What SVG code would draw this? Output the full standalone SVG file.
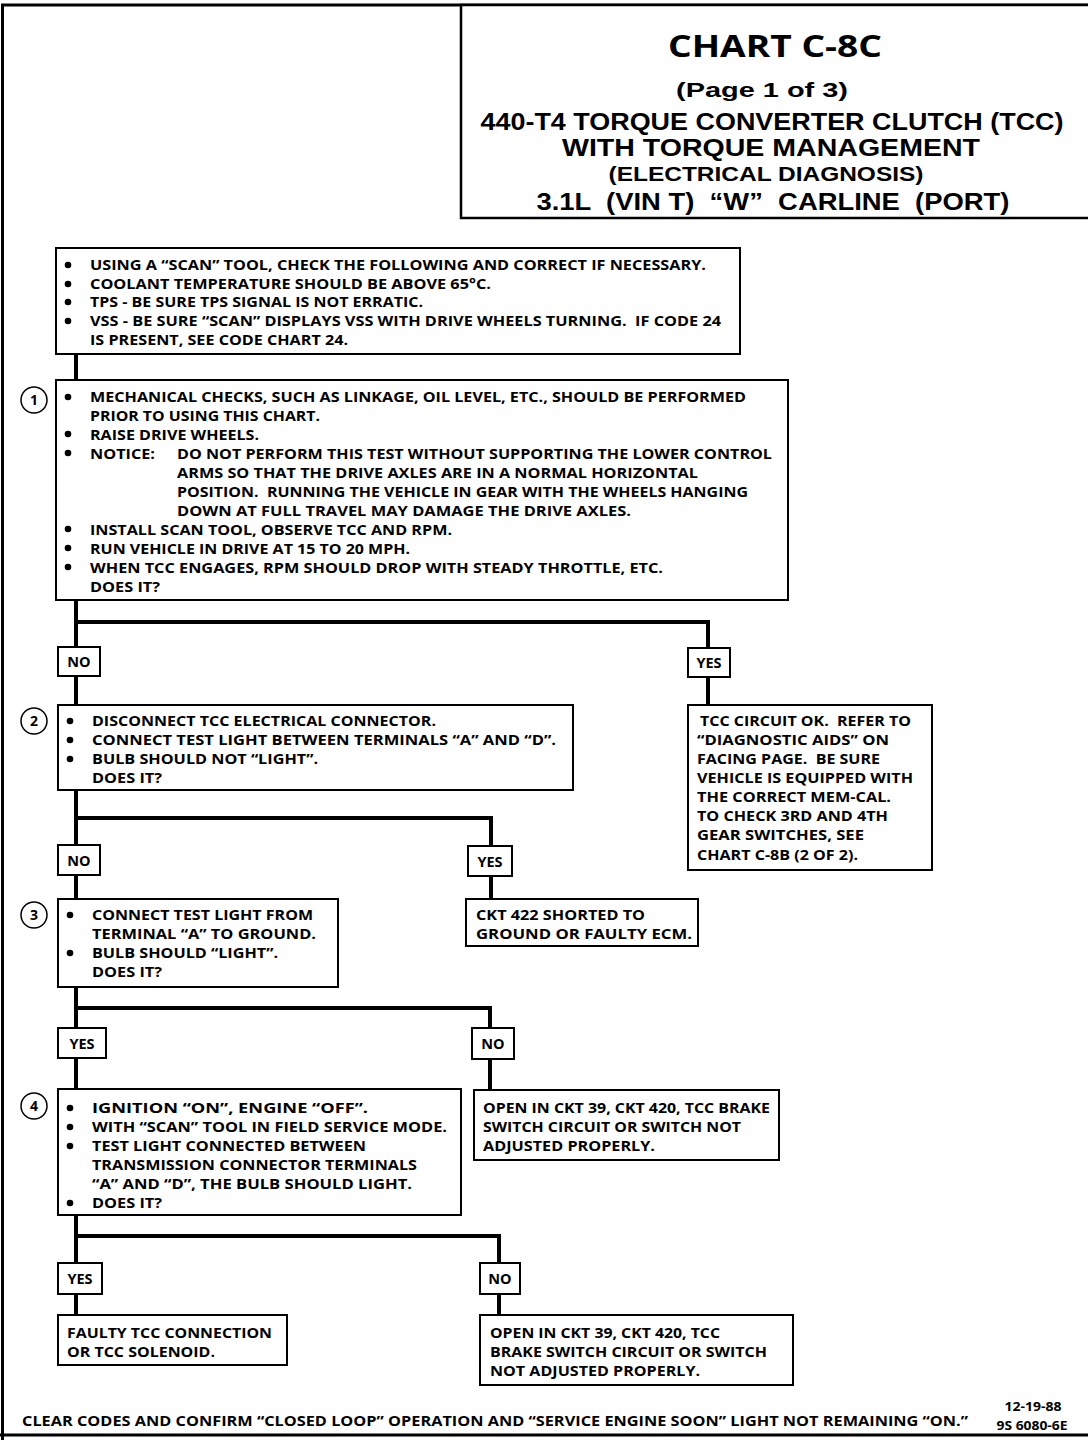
<svg xmlns="http://www.w3.org/2000/svg" width="1088" height="1440" viewBox="0 0 1088 1440">
<style>
text{font-family:"Open Sans","Liberation Sans",sans-serif;font-weight:700;fill:#000}
.t{font-size:14.5px}
.box{fill:#fff;stroke:#000;stroke-width:2}
.lbl{fill:#fff;stroke:#000;stroke-width:2}
.lt{font-size:14.5px;text-anchor:middle}
.num{fill:#fff;stroke:#000;stroke-width:1.5}
.nt{font-size:14px;text-anchor:middle}
.conn{fill:none;stroke:#000;stroke-width:4}
.frame{fill:none;stroke:#000;stroke-width:3}
.ttl{text-anchor:middle}
.tl{font-family:"Liberation Sans",Arial,sans-serif;text-anchor:middle}
</style>
<defs><circle id="b" r="3.3" fill="#000"/></defs>
<g id="frame">
<path class="frame" d="M2.5 1440 V5 H1088 M0 1435 H1088"/>
</g>
<g id="connectors">
<path class="conn" d="M76 354 V380 M76 600 V705 M76 622 H708 V705 M76 790 V899 M76 818 H491 V899 M76 987 V1089 M76 1008 H490 V1090 M76 1215 V1315 M76 1236 H499 V1315"/>
</g>
<g id="title">
<rect x="461" y="5" width="640" height="213" fill="#fff" stroke="#000" stroke-width="2.5"/>
<text class="ttl" x="775" y="57" font-size="31" textLength="214" lengthAdjust="spacingAndGlyphs">CHART C-8C</text>
<text class="tl" x="762" y="97" font-size="20" textLength="172" lengthAdjust="spacingAndGlyphs">(Page 1 of 3)</text>
<text class="tl" x="772" y="130" font-size="23" textLength="583" lengthAdjust="spacingAndGlyphs">440-T4 TORQUE CONVERTER CLUTCH (TCC)</text>
<text class="tl" x="771" y="156" font-size="23" textLength="418" lengthAdjust="spacingAndGlyphs">WITH TORQUE MANAGEMENT</text>
<text class="tl" x="766" y="181" font-size="20" textLength="315" lengthAdjust="spacingAndGlyphs">(ELECTRICAL DIAGNOSIS)</text>
<text class="tl" x="773" y="210" font-size="24" textLength="473" lengthAdjust="spacingAndGlyphs" xml:space="preserve">3.1L  (VIN T)  “W”  CARLINE  (PORT)</text>
</g>
<g id="node0">
<rect class="box" x="56" y="248" width="684" height="106"/>
<use href="#b" x="68" y="265"/><use href="#b" x="68" y="284"/><use href="#b" x="68" y="302"/><use href="#b" x="68" y="321"/>
<text class="t" x="90" y="270" textLength="616" lengthAdjust="spacingAndGlyphs">USING A “SCAN” TOOL, CHECK THE FOLLOWING AND CORRECT IF NECESSARY.</text>
<text class="t" x="90" y="289" textLength="401" lengthAdjust="spacingAndGlyphs">COOLANT TEMPERATURE SHOULD BE ABOVE 65°C.</text>
<text class="t" x="90" y="307" textLength="333" lengthAdjust="spacingAndGlyphs">TPS - BE SURE TPS SIGNAL IS NOT ERRATIC.</text>
<text class="t" x="90" y="326" textLength="631" lengthAdjust="spacingAndGlyphs" xml:space="preserve">VSS - BE SURE “SCAN” DISPLAYS VSS WITH DRIVE WHEELS TURNING.  IF CODE 24</text>
<text class="t" x="90" y="345" textLength="258" lengthAdjust="spacingAndGlyphs">IS PRESENT, SEE CODE CHART 24.</text>
</g>
<g id="node1">
<rect class="box" x="56" y="380" width="732" height="220"/>
<circle class="num" cx="34" cy="400" r="13"/><text class="nt" x="34" y="405">1</text>
<use href="#b" x="68" y="397"/><use href="#b" x="68" y="434"/><use href="#b" x="68" y="453"/><use href="#b" x="68" y="529"/><use href="#b" x="68" y="548"/><use href="#b" x="68" y="567"/>
<text class="t" x="90" y="402" textLength="656" lengthAdjust="spacingAndGlyphs">MECHANICAL CHECKS, SUCH AS LINKAGE, OIL LEVEL, ETC., SHOULD BE PERFORMED</text>
<text class="t" x="90" y="421" textLength="230" lengthAdjust="spacingAndGlyphs">PRIOR TO USING THIS CHART.</text>
<text class="t" x="90" y="440" textLength="169" lengthAdjust="spacingAndGlyphs">RAISE DRIVE WHEELS.</text>
<text class="t" x="90" y="459" textLength="65" lengthAdjust="spacingAndGlyphs">NOTICE:</text>
<text class="t" x="177" y="459" textLength="595" lengthAdjust="spacingAndGlyphs">DO NOT PERFORM THIS TEST WITHOUT SUPPORTING THE LOWER CONTROL</text>
<text class="t" x="177" y="478" textLength="521" lengthAdjust="spacingAndGlyphs">ARMS SO THAT THE DRIVE AXLES ARE IN A NORMAL HORIZONTAL</text>
<text class="t" x="177" y="497" textLength="571" lengthAdjust="spacingAndGlyphs" xml:space="preserve">POSITION.  RUNNING THE VEHICLE IN GEAR WITH THE WHEELS HANGING</text>
<text class="t" x="177" y="516" textLength="454" lengthAdjust="spacingAndGlyphs">DOWN AT FULL TRAVEL MAY DAMAGE THE DRIVE AXLES.</text>
<text class="t" x="90" y="535" textLength="362" lengthAdjust="spacingAndGlyphs">INSTALL SCAN TOOL, OBSERVE TCC AND RPM.</text>
<text class="t" x="90" y="554" textLength="320" lengthAdjust="spacingAndGlyphs">RUN VEHICLE IN DRIVE AT 15 TO 20 MPH.</text>
<text class="t" x="90" y="573" textLength="573" lengthAdjust="spacingAndGlyphs">WHEN TCC ENGAGES, RPM SHOULD DROP WITH STEADY THROTTLE, ETC.</text>
<text class="t" x="90" y="592" textLength="70" lengthAdjust="spacingAndGlyphs">DOES IT?</text>
</g>
<g id="no1"><rect class="lbl" x="58" y="647" width="42" height="29"/><text class="lt" x="79" y="667">NO</text></g>
<g id="yes1"><rect class="lbl" x="688" y="648" width="42" height="29"/><text class="lt" x="709" y="668">YES</text></g>
<g id="node2">
<rect class="box" x="58" y="705" width="515" height="85"/>
<circle class="num" cx="34" cy="721" r="13"/><text class="nt" x="34" y="726">2</text>
<use href="#b" x="70" y="721"/><use href="#b" x="70" y="740"/><use href="#b" x="70" y="759"/>
<text class="t" x="92" y="726" textLength="344" lengthAdjust="spacingAndGlyphs">DISCONNECT TCC ELECTRICAL CONNECTOR.</text>
<text class="t" x="92" y="745" textLength="464" lengthAdjust="spacingAndGlyphs">CONNECT TEST LIGHT BETWEEN TERMINALS “A” AND “D”.</text>
<text class="t" x="92" y="764" textLength="226" lengthAdjust="spacingAndGlyphs">BULB SHOULD NOT “LIGHT”.</text>
<text class="t" x="92" y="783" textLength="70" lengthAdjust="spacingAndGlyphs">DOES IT?</text>
</g>
<g id="tccok">
<rect class="box" x="688" y="705" width="244" height="165"/>
<text class="t" x="700" y="726" textLength="211" lengthAdjust="spacingAndGlyphs" xml:space="preserve">TCC CIRCUIT OK.  REFER TO</text>
<text class="t" x="697" y="745" textLength="192" lengthAdjust="spacingAndGlyphs">“DIAGNOSTIC AIDS” ON</text>
<text class="t" x="697" y="764" textLength="183" lengthAdjust="spacingAndGlyphs" xml:space="preserve">FACING PAGE.  BE SURE</text>
<text class="t" x="697" y="783" textLength="216" lengthAdjust="spacingAndGlyphs">VEHICLE IS EQUIPPED WITH</text>
<text class="t" x="697" y="802" textLength="194" lengthAdjust="spacingAndGlyphs">THE CORRECT MEM-CAL.</text>
<text class="t" x="697" y="821" textLength="191" lengthAdjust="spacingAndGlyphs">TO CHECK 3RD AND 4TH</text>
<text class="t" x="697" y="840" textLength="167" lengthAdjust="spacingAndGlyphs">GEAR SWITCHES, SEE</text>
<text class="t" x="697" y="860" textLength="161" lengthAdjust="spacingAndGlyphs">CHART C-8B (2 OF 2).</text>
</g>
<g id="no2"><rect class="lbl" x="58" y="845" width="42" height="30"/><text class="lt" x="79" y="866">NO</text></g>
<g id="yes2"><rect class="lbl" x="468" y="846" width="44" height="30"/><text class="lt" x="490" y="867">YES</text></g>
<g id="node3">
<rect class="box" x="58" y="899" width="280" height="88"/>
<circle class="num" cx="34" cy="915" r="13"/><text class="nt" x="34" y="920">3</text>
<use href="#b" x="70" y="915"/><use href="#b" x="70" y="953"/>
<text class="t" x="92" y="920" textLength="221" lengthAdjust="spacingAndGlyphs">CONNECT TEST LIGHT FROM</text>
<text class="t" x="92" y="939" textLength="224" lengthAdjust="spacingAndGlyphs">TERMINAL “A” TO GROUND.</text>
<text class="t" x="92" y="958" textLength="186" lengthAdjust="spacingAndGlyphs">BULB SHOULD “LIGHT”.</text>
<text class="t" x="92" y="977" textLength="70" lengthAdjust="spacingAndGlyphs">DOES IT?</text>
</g>
<g id="ckt422">
<rect class="box" x="466" y="899" width="232" height="47"/>
<text class="t" x="476" y="920" textLength="169" lengthAdjust="spacingAndGlyphs">CKT 422 SHORTED TO</text>
<text class="t" x="476" y="939" textLength="216" lengthAdjust="spacingAndGlyphs">GROUND OR FAULTY ECM.</text>
</g>
<g id="yes3"><rect class="lbl" x="58" y="1028" width="48" height="30"/><text class="lt" x="82" y="1049">YES</text></g>
<g id="no3"><rect class="lbl" x="472" y="1028" width="42" height="31"/><text class="lt" x="493" y="1049">NO</text></g>
<g id="node4">
<rect class="box" x="58" y="1089" width="403" height="126"/>
<circle class="num" cx="34" cy="1106" r="13"/><text class="nt" x="34" y="1111">4</text>
<use href="#b" x="70" y="1108"/><use href="#b" x="70" y="1127"/><use href="#b" x="70" y="1146"/><use href="#b" x="70" y="1203"/>
<text class="t" x="92" y="1113" textLength="276" lengthAdjust="spacingAndGlyphs">IGNITION “ON”, ENGINE “OFF”.</text>
<text class="t" x="92" y="1132" textLength="355" lengthAdjust="spacingAndGlyphs">WITH “SCAN” TOOL IN FIELD SERVICE MODE.</text>
<text class="t" x="92" y="1151" textLength="274" lengthAdjust="spacingAndGlyphs">TEST LIGHT CONNECTED BETWEEN</text>
<text class="t" x="92" y="1170" textLength="325" lengthAdjust="spacingAndGlyphs">TRANSMISSION CONNECTOR TERMINALS</text>
<text class="t" x="92" y="1189" textLength="320" lengthAdjust="spacingAndGlyphs">“A” AND “D”, THE BULB SHOULD LIGHT.</text>
<text class="t" x="92" y="1208" textLength="70" lengthAdjust="spacingAndGlyphs">DOES IT?</text>
</g>
<g id="open1">
<rect class="box" x="474" y="1090" width="305" height="70"/>
<text class="t" x="483" y="1113" textLength="287" lengthAdjust="spacingAndGlyphs">OPEN IN CKT 39, CKT 420, TCC BRAKE</text>
<text class="t" x="483" y="1132" textLength="258" lengthAdjust="spacingAndGlyphs">SWITCH CIRCUIT OR SWITCH NOT</text>
<text class="t" x="483" y="1151" textLength="172" lengthAdjust="spacingAndGlyphs">ADJUSTED PROPERLY.</text>
</g>
<g id="yes4"><rect class="lbl" x="58" y="1263" width="44" height="31"/><text class="lt" x="80" y="1284">YES</text></g>
<g id="no4"><rect class="lbl" x="480" y="1263" width="40" height="31"/><text class="lt" x="500" y="1284">NO</text></g>
<g id="faulty">
<rect class="box" x="58" y="1315" width="229" height="50"/>
<text class="t" x="67" y="1338" textLength="205" lengthAdjust="spacingAndGlyphs">FAULTY TCC CONNECTION</text>
<text class="t" x="67" y="1357" textLength="148" lengthAdjust="spacingAndGlyphs">OR TCC SOLENOID.</text>
</g>
<g id="open2">
<rect class="box" x="480" y="1315" width="313" height="70"/>
<text class="t" x="490" y="1338" textLength="230" lengthAdjust="spacingAndGlyphs">OPEN IN CKT 39, CKT 420, TCC</text>
<text class="t" x="490" y="1357" textLength="277" lengthAdjust="spacingAndGlyphs">BRAKE SWITCH CIRCUIT OR SWITCH</text>
<text class="t" x="490" y="1376" textLength="210" lengthAdjust="spacingAndGlyphs">NOT ADJUSTED PROPERLY.</text>
</g>
<g id="footer">
<text class="t" x="22" y="1426" textLength="946" lengthAdjust="spacingAndGlyphs">CLEAR CODES AND CONFIRM “CLOSED LOOP” OPERATION AND “SERVICE ENGINE SOON” LIGHT NOT REMAINING “ON.”</text>
<text x="1033" y="1411" font-size="13" text-anchor="middle" textLength="57" lengthAdjust="spacingAndGlyphs">12-19-88</text>
<text x="1032" y="1430" font-size="13" text-anchor="middle" textLength="71" lengthAdjust="spacingAndGlyphs">9S 6080-6E</text>
</g>
</svg>
